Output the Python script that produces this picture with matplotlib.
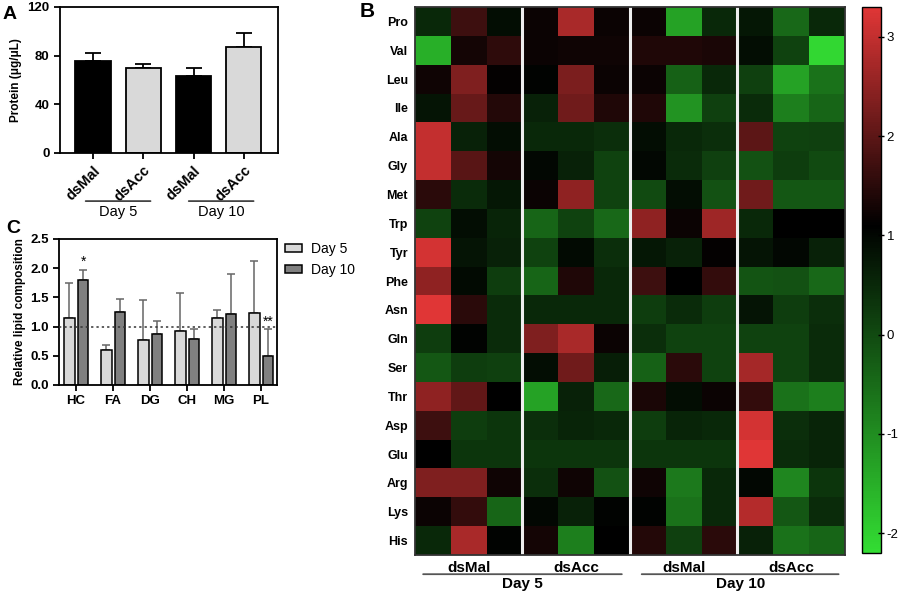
import numpy as np
import matplotlib
matplotlib.use("Agg")
import matplotlib.pyplot as plt
from matplotlib.colors import LinearSegmentedColormap

plt.rcParams['font.family'] = ['Liberation Sans', 'DejaVu Sans']
plt.rcParams['axes.unicode_minus'] = False

# Panel A data
groups_a = ["dsMal", "dsAcc", "dsMal", "dsAcc"]
protein = [75.5, 69.5, 63.4, 87.0]
protein_err = [6.5, 3.5, 6.4, 11.3]

# Panel C data
lipids = ["HC", "FA", "DG", "CH", "MG", "PL"]
day5 = [1.14, 0.60, 0.77, 0.93, 1.14, 1.24]
day5_err = [0.60, 0.08, 0.68, 0.64, 0.14, 0.89]
day10 = [1.79, 1.25, 0.88, 0.78, 1.22, 0.50]
day10_err = [0.18, 0.22, 0.21, 0.17, 0.68, 0.45]

# Panel B data
amino = ["Pro", "Val", "Leu", "Ile", "Ala", "Gly", "Met", "Trp", "Tyr", "Phe",
         "Asn", "Gln", "Ser", "Thr", "Asp", "Glu", "Arg", "Lys", "His"]
heat = [
    [0.5, 1.7, 0.9, 1.2, 2.75, 1.2, 1.2, -1.3, 0.5, 0.75, -0.45, 0.5],
    [-1.5, 1.3, 1.55, 1.2, 1.25, 1.25, 1.4, 1.4, 1.35, 0.9, 0.1, -2.1],
    [1.25, 2.35, 1.15, 1.05, 2.3, 1.2, 1.2, -0.35, 0.5, 0.15, -1.3, -0.6],
    [0.8, 2.1, 1.45, 0.6, 2.2, 1.4, 1.4, -1.1, 0.15, 0.45, -0.8, -0.4],
    [3.0, 0.6, 0.9, 0.5, 0.5, 0.4, 0.9, 0.5, 0.4, 2.0, 0.1, 0.15],
    [3.0, 1.95, 1.3, 1.0, 0.6, 0.1, 1.0, 0.45, 0.15, -0.1, 0.2, 0.0],
    [1.5, 0.45, 0.75, 1.2, 2.5, 0.1, 0.0, 0.9, -0.1, 2.2, -0.2, -0.2],
    [0.1, 0.9, 0.55, -0.4, 0.1, -0.45, 2.5, 1.2, 2.65, 0.5, 1.1, 1.1],
    [3.15, 0.8, 0.6, 0.1, 0.95, 0.4, 0.75, 0.6, 1.15, 0.8, 1.0, 0.6],
    [2.5, 0.95, 0.2, -0.4, 1.4, 0.5, 1.7, 1.1, 1.6, -0.15, -0.1, -0.45],
    [3.3, 1.5, 0.45, 0.5, 0.5, 0.5, 0.2, 0.45, 0.2, 0.8, 0.2, 0.4],
    [0.2, 1.05, 0.45, 2.35, 2.75, 1.2, 0.4, 0.1, 0.1, 0.1, 0.1, 0.45],
    [-0.2, 0.2, 0.15, 0.9, 2.2, 0.65, -0.35, 1.5, 0.1, 2.7, 0.1, 0.45],
    [2.5, 2.05, 1.1, -1.3, 0.6, -0.45, 1.35, 0.9, 1.2, 1.6, -0.6, -0.8],
    [1.7, 0.2, 0.3, 0.4, 0.55, 0.5, 0.2, 0.55, 0.5, 3.15, 0.4, 0.55],
    [1.1, 0.3, 0.3, 0.3, 0.3, 0.3, 0.3, 0.3, 0.3, 3.3, 0.45, 0.55],
    [2.35, 2.35, 1.25, 0.4, 1.25, -0.1, 1.25, -0.7, 0.5, 1.0, -0.9, 0.3],
    [1.2, 1.6, -0.4, 1.0, 0.6, 1.05, 1.05, -0.6, 0.5, 2.85, -0.2, 0.45],
    [0.5, 2.75, 1.05, 1.3, -0.8, 1.1, 1.45, 0.15, 1.5, 0.6, -0.6, -0.4],
]
treat = ["dsMal", "dsAcc", "dsMal", "dsAcc"]
days = ["Day 5", "Day 10"]

fig = plt.figure(figsize=(8.99, 5.95), dpi=100)

# ---------- Panel A ----------
axA = fig.add_axes([0.0667, 0.743, 0.2425, 0.2454])
xa = np.arange(len(groups_a))
cols_a = ["black", "#d9d9d9", "black", "#d9d9d9"]
axA.bar(xa, protein, width=0.7, color=cols_a, edgecolor="black", linewidth=1.3, zorder=2)
axA.errorbar(xa, protein, yerr=[np.zeros(4), protein_err], fmt="none", ecolor="black",
             elinewidth=1.3, capsize=6, capthick=1.3, zorder=1)
axA.set_xlim(-0.656, 3.68)
axA.set_ylim(0, 120)
axA.set_yticks([0, 40, 80, 120])
axA.set_xticks(xa)
axA.set_xticklabels(groups_a, rotation=45, ha="right", rotation_mode="anchor",
                    fontsize=10.5, fontweight="bold")
axA.set_ylabel("Protein (μg/μL)", fontsize=8.5, fontweight="bold")
for lab in axA.get_yticklabels():
    lab.set_fontweight("bold")
    lab.set_fontsize(9.5)
axA.tick_params(width=1.3, length=4)
for s in axA.spines.values():
    s.set_linewidth(1.3)
# group lines under panel A
for (x0, x1, txt) in [(-0.2, 1.2, days[0]), (1.85, 3.25, days[1])]:
    axA.annotate("", xy=(x1, -0.33), xytext=(x0, -0.33), xycoords=("data", "axes fraction"),
                 arrowprops=dict(arrowstyle="-", color="#444444", lw=1.3), annotation_clip=False)
    axA.text((x0 + x1) / 2, -0.36, txt, transform=axA.get_xaxis_transform(),
             ha="center", va="top", fontsize=10.5)

# ---------- Panel C ----------
axC = fig.add_axes([0.0656, 0.353, 0.2425, 0.2454])
xc = np.arange(len(lipids))
bw = 0.28
axC.bar(xc - 0.18, day5, width=bw, color="#d9d9d9", edgecolor="black", linewidth=1.1,
        label="Day 5", zorder=2)
axC.bar(xc + 0.19, day10, width=bw, color="#808080", edgecolor="black", linewidth=1.1,
        label="Day 10", zorder=2)
axC.errorbar(xc - 0.18, day5, yerr=[np.zeros(6), day5_err], fmt="none", ecolor="#666666",
             elinewidth=1.1, capsize=3, capthick=1.1, zorder=1)
axC.errorbar(xc + 0.19, day10, yerr=[np.zeros(6), day10_err], fmt="none", ecolor="#666666",
             elinewidth=1.1, capsize=3, capthick=1.1, zorder=1)
axC.axhline(1.0, color="#333333", linestyle=(0, (1.5, 2)), linewidth=1.1, zorder=3)
axC.text(0 + 0.19, day10[0] + day10_err[0] + 0.02, "*", ha="center", va="bottom", fontsize=10)
axC.text(5 + 0.19, 0.97, "**", ha="center", va="bottom", fontsize=10)
axC.set_xlim(-0.46, 5.43)
axC.set_ylim(0, 2.5)
axC.set_yticks([0, 0.5, 1.0, 1.5, 2.0, 2.5])
axC.set_yticklabels(["0.0", "0.5", "1.0", "1.5", "2.0", "2.5"], fontsize=9.5, fontweight="bold")
axC.set_xticks(xc)
axC.set_xticklabels(lipids, fontsize=9.5, fontweight="bold")
axC.set_ylabel("Relative lipid composition", fontsize=8.5, fontweight="bold", labelpad=3)
axC.tick_params(width=1.3, length=4)
for s in axC.spines.values():
    s.set_linewidth(1.3)
fig.legend(*axC.get_legend_handles_labels(), loc="upper left",
           bbox_to_anchor=(285 / 899, 1 - 242 / 595), frameon=False, fontsize=10,
           handlelength=1.2, handleheight=0.5, handletextpad=0.7, labelspacing=0.5,
           borderaxespad=0, borderpad=0)

# ---------- Panel B ----------
cmap = LinearSegmentedColormap.from_list(
    "gkr", [(0.0, "#33dd33"), (0.6, "#000000"), (1.0, "#e03636")])
axB = fig.add_axes([0.4616, 0.0672, 0.4783, 0.921])
data = np.array(heat)
mesh = axB.pcolormesh(data, cmap=cmap, vmin=-2.2, vmax=3.3)
axB.set_xlim(0, data.shape[1])
axB.set_ylim(data.shape[0], 0)
for xv in [3, 6, 9]:
    axB.axvline(xv, color="#eeeeee", linewidth=2.2)
axB.set_yticks(np.arange(len(amino)) + 0.5)
axB.set_yticklabels(amino, fontsize=9, fontweight="bold")
axB.set_xticks([])
axB.tick_params(axis="y", length=0, pad=5)
for s in axB.spines.values():
    s.set_linewidth(1.3)
    s.set_color("#333333")
for i, t in enumerate(treat):
    axB.text(i * 3 + 1.5, -0.011, t, transform=axB.get_xaxis_transform(),
             ha="center", va="top", fontsize=11, fontweight="bold")
for (x0, x1, txt) in [(0.15, 5.85, days[0]), (6.25, 11.9, days[1])]:
    axB.annotate("", xy=(x1, -0.035), xytext=(x0, -0.035), xycoords=("data", "axes fraction"),
                 arrowprops=dict(arrowstyle="-", color="#555555", lw=1.3), annotation_clip=False)
    axB.text((x0 + x1) / 2, -0.041, txt, transform=axB.get_xaxis_transform(),
             ha="center", va="top", fontsize=11, fontweight="bold")

cax = fig.add_axes([0.959, 0.0706, 0.021, 0.9176])
cb = fig.colorbar(mesh, cax=cax, ticks=[-2, -1, 0, 1, 2, 3])
cb.ax.tick_params(labelsize=9.5, length=4, width=1.0, direction="inout", pad=2)
cb.outline.set_linewidth(1.0)

# panel letters
fig.text(3 / 899, 1 - 19 / 595, "A", fontsize=14, fontweight="bold", va="baseline")
fig.text(360 / 899, 1 - 17 / 595, "B", fontsize=15, fontweight="bold", va="baseline")
fig.text(6 / 899, 1 - 233 / 595, "C", fontsize=14, fontweight="bold", va="baseline")

fig.savefig("out.png", dpi=100)
